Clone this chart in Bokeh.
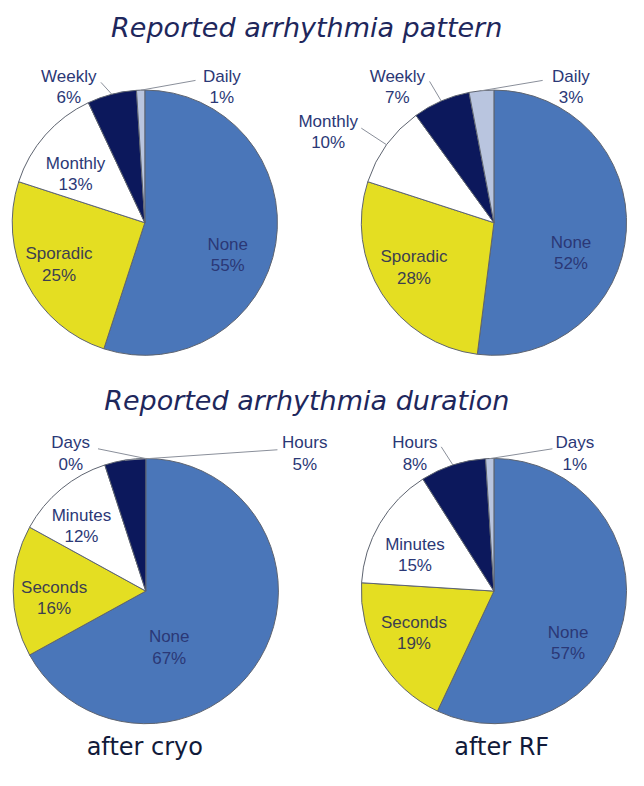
import math
from bokeh.plotting import figure
from bokeh.models import Range1d
from bokeh.core.properties import value
from bokeh.embed import file_html
from bokeh.resources import INLINE

# ---------------- data ----------------
pattern_categories = ["None", "Sporadic", "Monthly", "Weekly", "Daily"]
pattern_cryo = [55, 25, 13, 6, 1]
pattern_rf = [52, 28, 10, 7, 3]

duration_categories = ["None", "Seconds", "Minutes", "Hours", "Days"]
duration_cryo = [67, 16, 12, 5, 0]
duration_rf = [57, 19, 15, 8, 1]

group_titles = ["Reported arrhythmia pattern", "Reported arrhythmia duration"]
column_titles = ["after cryo", "after RF"]

# ---------------- styles ----------------
slice_colors = ["#4a76b9", "#e4de22", "#ffffff", "#0c185c", "#b9c5df"]
edge_color = "#5e6470"
label_color = "#2b3876"
label_color_yellow = "#3c3f50"
title_color = "#1e275c"

W_REF, H_REF = 644, 786
p = figure(width=628, height=766, x_range=Range1d(0, W_REF), y_range=Range1d(0, H_REF),
           output_backend="svg", toolbar_location=None, min_border=0)
p.axis.visible = False
p.grid.visible = False
p.outline_line_color = None
p.background_fill_color = "white"


def Y(y):
    return H_REF - y


R = 136
# pie layout: (center x, center y) in reference pixel coordinates
pies = [
    dict(values=pattern_cryo, cats=pattern_categories, c=(148, 228),
         labels=[(233, 250), (60, 260), (77, 167), (70, 78), (227, 78)],
         leaders={3: (103, 84), 4: (200, 82)}),
    dict(values=pattern_rf, cats=pattern_categories, c=(506, 228),
         labels=[(585, 248), (424, 263), (336, 124), (407, 78), (585, 78)],
         leaders={2: (370, 131), 3: (440, 83), 4: (556, 82)}),
    dict(values=duration_cryo, cats=duration_categories, c=(149, 606),
         labels=[(173, 653), (55, 602), (83, 528), (312, 454), (72, 454)],
         leaders={3: (284, 461), 4: (100, 460)}),
    dict(values=duration_rf, cats=duration_categories, c=(506, 606),
         labels=[(582, 648), (424, 638), (425, 558), (425, 454), (589, 454)],
         leaders={3: (452, 458), 4: (566, 460)}),
]

for pie in pies:
    vals = pie["values"]
    total = float(sum(vals))
    cx, cy = pie["c"]
    starts, ends, mids = [], [], []
    cum = 0.0
    for v in vals:
        a0 = math.pi / 2 - 2 * math.pi * cum / total
        cum += v
        a1 = math.pi / 2 - 2 * math.pi * cum / total
        starts.append(a0)
        ends.append(a1)
        mids.append((a0 + a1) / 2)
    keep = [i for i, v in enumerate(vals) if v > 0]
    p.wedge(x=[cx] * len(keep), y=[Y(cy)] * len(keep), radius=R,
            start_angle=[starts[i] for i in keep], end_angle=[ends[i] for i in keep],
            direction="clock", fill_color=[slice_colors[i] for i in keep],
            line_color=edge_color, line_width=1)

    # leader lines
    xs, ys = [], []
    for i, (lx, ly) in pie["leaders"].items():
        ex = cx + R * math.cos(mids[i])
        ey = Y(cy) + R * math.sin(mids[i])
        xs.append([lx, ex])
        ys.append([Y(ly), ey])
    p.multi_line(xs=xs, ys=ys, line_color="#8a8f9a", line_width=1)

    # labels
    for i, (lx, ly) in enumerate(pie["labels"]):
        col = label_color_yellow if i == 1 else label_color
        p.text(x=[lx], y=[Y(ly)], text=[pie["cats"][i]], text_align="center",
               text_baseline="middle", text_font=value("Liberation Sans"),
               text_font_size="17px", text_color=col)
        p.text(x=[lx], y=[Y(ly + 22)], text=[f"{vals[i]}%"], text_align="center",
               text_baseline="middle", text_font=value("Liberation Sans"),
               text_font_size="17px", text_color=col)

# group titles
title_pos = [(314, 28), (314, 410)]
for t, (tx, ty) in zip(group_titles, title_pos):
    p.text(x=[tx], y=[Y(ty)], text=[t], text_align="center", text_baseline="middle",
           text_font=value("DejaVu Sans"), text_font_style="italic",
           text_font_size="27px", text_color=title_color)

col_pos = [(148, 766), (514, 766)]
for t, (tx, ty) in zip(column_titles, col_pos):
    p.text(x=[tx], y=[Y(ty)], text=[t], text_align="center", text_baseline="middle",
           text_font=value("DejaVu Sans"), text_font_size="24px", text_color="#111a3a")

open("out.html", "w").write(file_html(p, INLINE))
